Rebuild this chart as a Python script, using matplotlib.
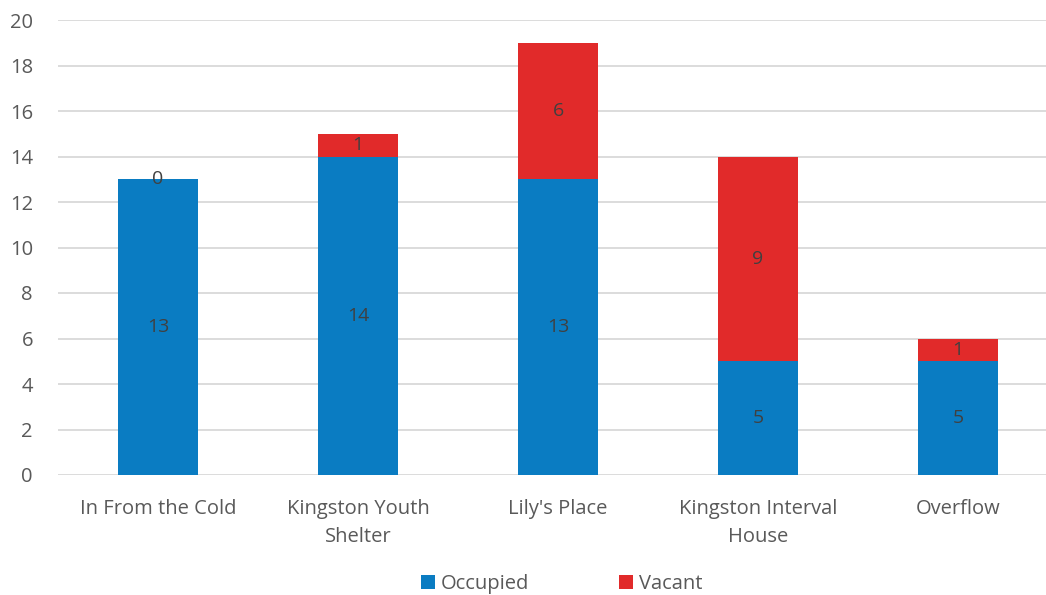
import matplotlib.pyplot as plt
import numpy as np

categories = ['In From the Cold', 'Kingston Youth\nShelter', "Lily's Place",
              'Kingston Interval\nHouse', 'Overflow']
occupied = [13, 14, 13, 5, 5]
vacant = [0, 1, 6, 9, 1]

BLUE = '#0a7cc2'
RED = '#e12a2a'
GREY = '#595959'

plt.rcParams['font.family'] = ['Open Sans', 'DejaVu Sans']

fig = plt.figure(figsize=(10.46, 5.95), dpi=100)
ax = fig.add_axes([58 / 1046, 120 / 595, 988 / 1046, 455 / 595])

x = np.arange(len(categories))
b1 = ax.bar(x, occupied, width=0.4, color=BLUE, label='Occupied', zorder=2)
b2 = ax.bar(x, vacant, width=0.4, bottom=occupied, color=RED, label='Vacant', zorder=2)

for xi, o, v in zip(x, occupied, vacant):
    ax.text(xi, o / 2, str(o), ha='center', va='center', fontsize=14, color='#404040')
    ax.text(xi, o + v / 2, str(v), ha='center', va='center', fontsize=14, color='#404040')

ax.set_xlim(-0.5, 4.44)
ax.set_ylim(0, 20)
ax.set_yticks(range(0, 21, 2))
ax.set_xticks(x)
ax.set_xticklabels(categories, fontsize=14.5, color=GREY, linespacing=1.55)
ax.tick_params(axis='y', labelsize=14.5, labelcolor=GREY, length=0, pad=18)
ax.tick_params(axis='x', length=0, pad=17)
ax.grid(axis='y', color='#d9d9d9', linewidth=1.3, zorder=0)
for s in ax.spines.values():
    s.set_visible(False)

fig.legend(handles=[b1, b2], loc='center', bbox_to_anchor=(0.537, 11 / 595), ncol=2,
           frameon=False, fontsize=14.5, handlelength=0.7, handleheight=0.7,
           handletextpad=0.3, columnspacing=4.45, labelcolor=GREY)

fig.savefig('out.png', dpi=100)
